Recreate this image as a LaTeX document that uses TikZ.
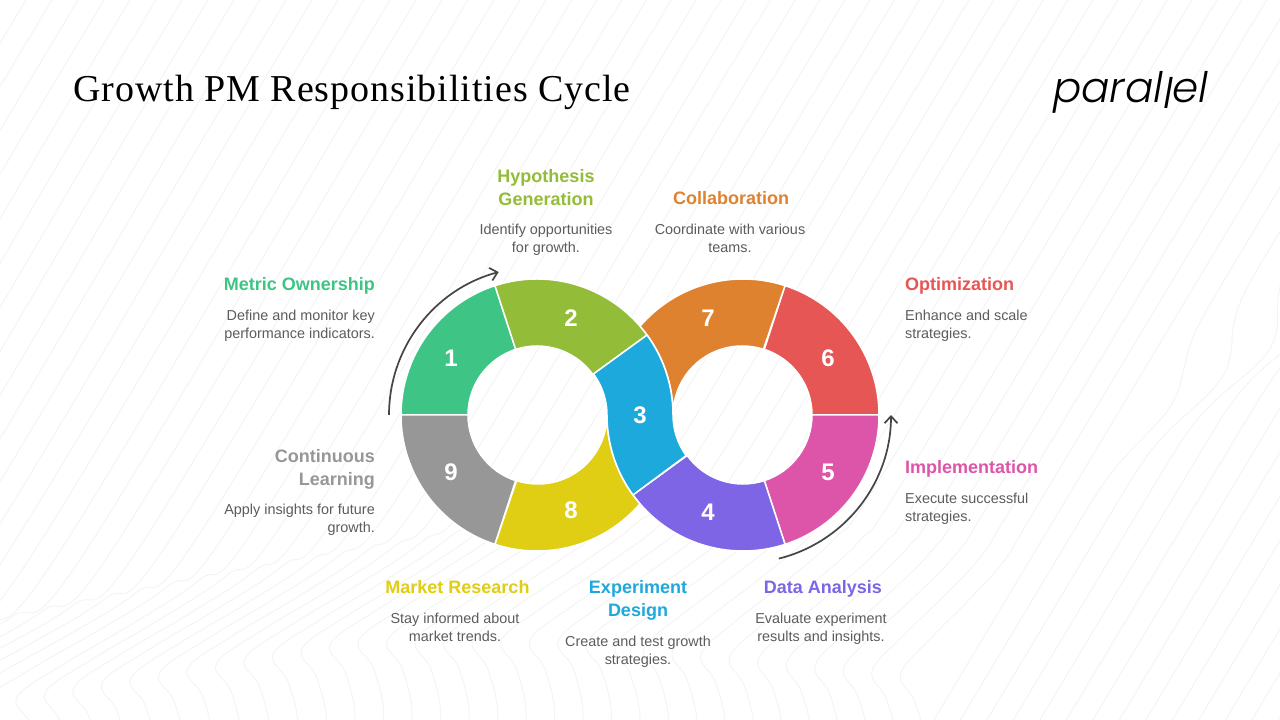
\documentclass[tikz,border=0pt]{standalone}
\usepackage{fontspec}
\setmainfont{Liberation Sans}
\newfontfamily\titlefont[LetterSpace=2.5]{Liberation Serif}
\newfontfamily\logofont{Poppins Light Italic}
\usetikzlibrary{arrows.meta}
\definecolor{cOne}{HTML}{3EC585}
\definecolor{cTwo}{HTML}{93BC38}
\definecolor{cThree}{HTML}{1DA9DC}
\definecolor{cFour}{HTML}{7D65E6}
\definecolor{cFive}{HTML}{DC55A9}
\definecolor{cSix}{HTML}{E55654}
\definecolor{cSeven}{HTML}{DF8230}
\definecolor{cEight}{HTML}{E0CE14}
\definecolor{cNine}{HTML}{979797}
\definecolor{descgrey}{HTML}{5C5C5C}
\definecolor{arrowgrey}{HTML}{454545}
\definecolor{bgline}{HTML}{F3F3F3}
\tikzset{
  seg/.style={draw=white,line width=1.5pt,line join=miter},
  num/.style={text=white,font=\bfseries\fontsize{24}{24}\selectfont,inner sep=0pt},
  head/.style={font=\bfseries\fontsize{18}{23}\selectfont,inner sep=0pt},
  desc/.style={text=descgrey,font=\fontsize{14.4}{17.3}\selectfont,inner sep=0pt},
  flow/.style={draw=arrowgrey,line width=1.7pt,-{Straight Barb[length=7pt,width=13pt,line width=1.7pt]}},
  bgl/.style={draw=bgline,line width=0.85pt}
}
\newcommand{\ringseg}[4]{%
  \path[seg,fill=#4] ([shift={(#2:136pt)}]#1) arc[start angle=#2,end angle=#3,radius=136pt]
    -- ([shift={(#3:69pt)}]#1) arc[start angle=#3,end angle=#2,radius=69pt] -- cycle;}
\begin{document}
\begin{tikzpicture}[x=1pt,y=1pt]
\useasboundingbox (0,0) rectangle (1280,720);
\fill[white] (0,0) rectangle (1280,720);
\begin{scope}
\clip (0,0) rectangle (1280,720);
% wave family
\foreach \k in {-23,...,31}{
  \pgfmathsetmacro{\xk}{\k<0 ? 17+36*\k : 17+28.5*\k}
  \pgfmathsetmacro{\yk}{\xk<353 ? 697-0.17*(\xk-17) : (\xk<560 ? 640 : 640+0.1*(\xk-560))}
  \pgfmathsetmacro{\cz}{\k<0 ? 572+26*\k : 572+24.8*\k}
  \pgfmathsetmacro{\tj}{\yk-177}
  \pgfmathsetmacro{\xj}{\cz-0.6*\tj}
  \pgfmathsetmacro{\dx}{\xj-\xk}
  \draw[bgl] plot[smooth,tension=0.6] coordinates {
    (\xk+24,720-\yk-110) (\xk+24,720-\yk-65) (\xk+14,720-\yk-27) (\xk,720-\yk)
    (\xk+0.2*\dx,720-\yk+34) (\xk+0.48*\dx,720-\yk+74) (\xk+0.75*\dx,720-\yk+117)
    (\xj,720-\tj) (\cz-60,620) (\cz,720)};
}
% right family
\foreach \j in {0,...,13}{
  \pgfmathsetmacro{\xz}{935+26.5*\j}
  \pgfmathsetmacro{\amp}{\j==0 ? 0 : (\j==1 ? 22 : (\j==2 ? 30 : 34))}
  \pgfmathsetmacro{\tc}{432-28*\j}
  \draw[bgl] plot[smooth,domain=-10:730,samples=38,variable=\t]
    ({\xz+0.6*(718-\t)+\amp*exp(-((\t-\tc)/48)*((\t-\tc)/48))},{720-\t});
}
\end{scope}

% rings
\coordinate (L) at (537,305);
\coordinate (R) at (743,305);
\ringseg{L}{180}{108}{cOne}
\ringseg{L}{108}{36}{cTwo}
\ringseg{L}{252}{180}{cNine}
\ringseg{R}{0}{72}{cSix}
\ringseg{R}{288}{360}{cFive}
\ringseg{R}{216}{288}{cFour}
% orange
\path[seg,fill=cSeven] ([shift={(72:136pt)}]R) arc[start angle=72,end angle=139.2,radius=136pt]
  arc[start angle=40.8,end angle=0,radius=136pt]
  arc[start angle=180,end angle=72,radius=69pt] -- cycle;
% yellow
\path[seg,fill=cEight] ([shift={(252:136pt)}]L) arc[start angle=252,end angle=319.2,radius=136pt]
  arc[start angle=220.8,end angle=180,radius=136pt]
  arc[start angle=0,end angle=-108,radius=69pt] -- cycle;
% blue
\path[seg,fill=cThree] ([shift={(36:69pt)}]L) -- ([shift={(36:136pt)}]L)
  arc[start angle=36,end angle=0,radius=136pt]
  arc[start angle=180,end angle=216,radius=69pt]
  -- ([shift={(216:136pt)}]R)
  arc[start angle=216,end angle=180,radius=136pt]
  arc[start angle=0,end angle=36,radius=69pt] -- cycle;

% flow arrows
\draw[flow] ([shift={(180:148pt)}]L) arc[start angle=180,end angle=105,radius=148pt];
\draw[flow] ([shift={(284:148pt)}]R) arc[start angle=284,end angle=360,radius=148pt];

% numbers
\node[num] (n1) at (451,362) {1};
\node[num] (n2) at (571,402) {2};
\node[num] (n3) at (640,305) {3};
\node[num] (n4) at (708,208) {4};
\node[num] (n5) at (828,248) {5};
\node[num] (n6) at (828,362) {6};
\node[num] (n7) at (708,402) {7};
\node[num] (n8) at (571,210) {8};
\node[num] (n9) at (451,248) {9};

% title and logo
\node[anchor=base west,inner sep=0pt,font=\titlefont\fontsize{38}{38}\selectfont,text=black] (title) at (73,618) {Growth PM Responsibilities Cycle};
\node[anchor=base west,inner sep=0pt,font=\logofont\fontsize{42}{42}\selectfont,text=black] (logo) at (1053,617) {paral\raisebox{-6pt}{l}el};

% labels
\node[head,text=cOne,anchor=north east,align=right] (h1) at (375,445.5) {\strut Metric Ownership};
\node[desc,anchor=north east,align=right] (d1) at (375,411.6) {\strut Define and monitor key\\\strut performance indicators.};
\node[head,text=cNine,anchor=north east,align=right] (h9) at (375,273.5) {\strut Continuous\\\strut Learning};
\node[desc,anchor=north east,align=right] (d9) at (375,217.6) {\strut Apply insights for future\\\strut growth.};
\node[head,text=cTwo,anchor=north,align=center] (h2) at (546,553.5) {\strut Hypothesis\\\strut Generation};
\node[desc,anchor=north,align=center] (d2) at (546,497.6) {\strut Identify opportunities\\\strut for growth.};
\node[head,text=cSeven,anchor=north,align=center] (h7) at (731,531.5) {\strut Collaboration};
\node[desc,anchor=north,align=center] (d7) at (730,497.6) {\strut Coordinate with various\\\strut teams.};
\node[head,text=cSix,anchor=north west,align=left] (h6) at (905,445.5) {\strut Optimization};
\node[desc,anchor=north west,align=left] (d6) at (905,411.6) {\strut Enhance and scale\\\strut strategies.};
\node[head,text=cFive,anchor=north west,align=left] (h5) at (905,262.5) {\strut Implementation};
\node[desc,anchor=north west,align=left] (d5) at (905,228.6) {\strut Execute successful\\\strut strategies.};
\node[head,text=cEight,anchor=north,align=center] (h8) at (457.5,142.5) {\strut Market Research};
\node[desc,anchor=north,align=center] (d8) at (455,108.6) {\strut Stay informed about\\\strut market trends.};
\node[head,text=cThree,anchor=north,align=center] (h3) at (638,142.5) {\strut Experiment\\\strut Design};
\node[desc,anchor=north,align=center] (d3) at (638,85.6) {\strut Create and test growth\\\strut strategies.};
\node[head,text=cFour,anchor=north,align=center] (h4) at (823,142.5) {\strut Data Analysis};
\node[desc,anchor=north,align=center] (d4) at (821,108.6) {\strut Evaluate experiment\\\strut results and insights.};
\end{tikzpicture}
\end{document}
